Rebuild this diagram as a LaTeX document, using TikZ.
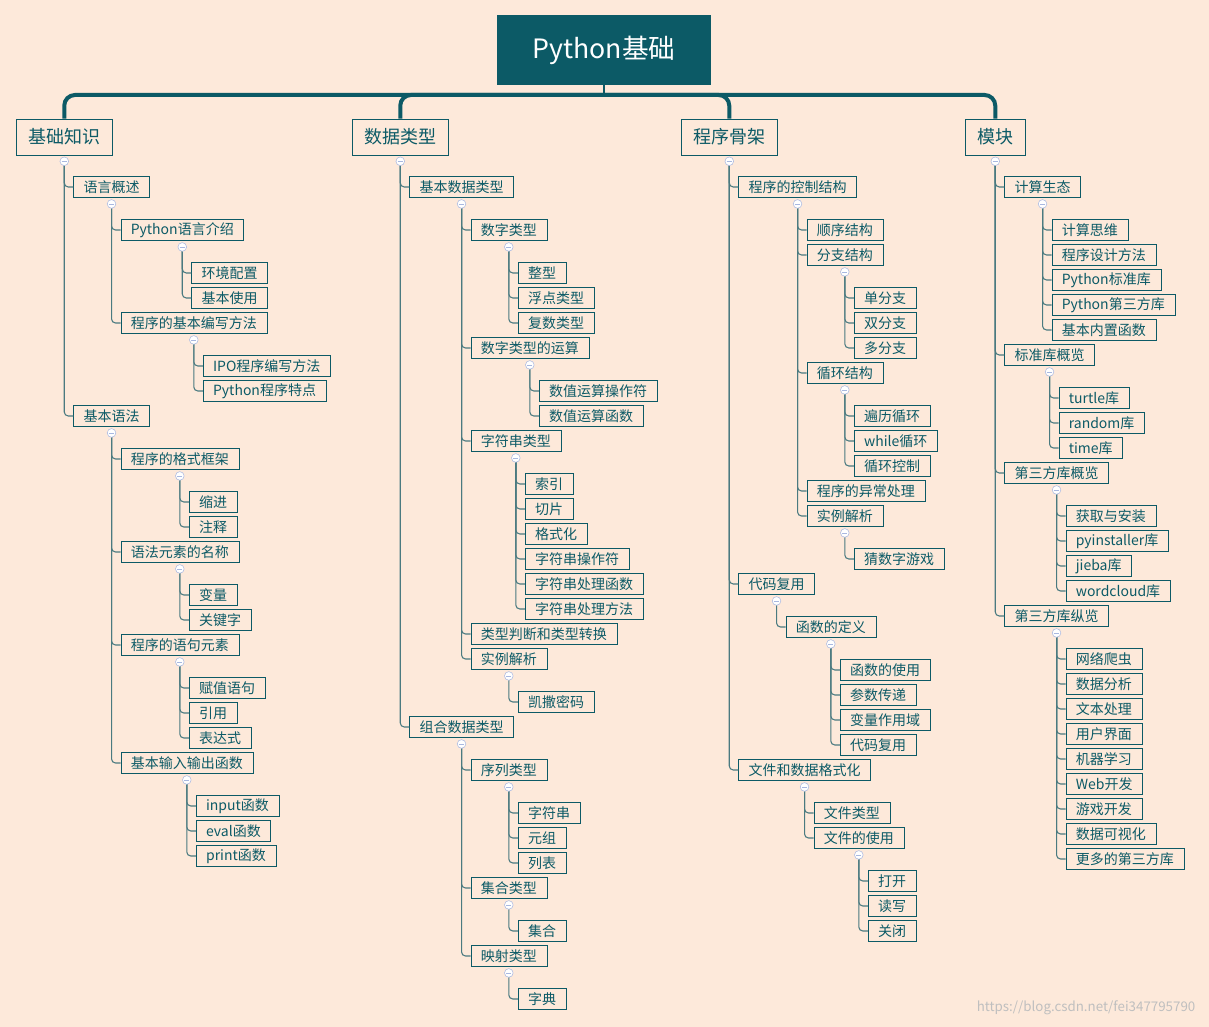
\documentclass[tikz,border=0pt]{standalone}
\usepackage{fontspec}
\setmainfont{Noto Sans CJK SC}
\usetikzlibrary{calc}
\definecolor{paper}{HTML}{FDE9DA}
\definecolor{teal}{HTML}{0C5A66}
\definecolor{wire}{HTML}{4A7A80}
\definecolor{foldc}{HTML}{A9B8E0}
% child node below a parent, plus its connector
\newcommand\kid[4]{%
  \path (#1.south) ++(9,0) coordinate (tmp);
  \node[topic,anchor=west] (#2) at (tmp |- 0,#3) {#4};
  \draw[line] ($(#1.south)+(0,10)$) |- (#2.west);}
\newcommand\fold[1]{\node[dot] at ($(#1.south)+(0,6)$) {};}
\begin{document}
\begin{tikzpicture}[x=0.75pt,y=-0.75pt]
    \tikzset{
        topic/.style={draw=teal,fill=paper,text=teal,font=\fontsize{10.5pt}{12pt}\selectfont,
          inner xsep=7.5pt,inner ysep=0pt,minimum height=16pt},
        main/.style={draw=teal,fill=paper,text=teal,font=\fontsize{13.5pt}{16pt}\selectfont,
          inner xsep=9pt,inner ysep=0pt,minimum height=27pt},
        line/.style={draw=wire,line width=0.8pt,rounded corners=3pt},
        bar/.style={draw=teal,line width=3pt,rounded corners=8pt},
        dot/.style={circle,draw=foldc,fill=white,minimum size=6.5pt,inner sep=0pt,
          path picture={\draw[foldc,line width=0.6pt] ([xshift=1.3pt]path picture bounding box.west)
            -- ([xshift=-1.3pt]path picture bounding box.east);}},
    };
    \fill[paper] (0,0) rectangle (1209,1027);
    \useasboundingbox (0,0) rectangle (1209,1027);
    \node [fill=teal,text=white,minimum width=160.5pt,minimum height=52pt,
      font=\fontsize{20pt}{24pt}\selectfont] (root) at (604,50) {Python基础};
    \coordinate (hub) at (604,95);
    \node [main,anchor=west] (a) at (16,137) {基础知识};
    \node [main,anchor=west] (b) at (352,137) {数据类型};
    \node [main,anchor=west] (c) at (681,137) {程序骨架};
    \node [main,anchor=west] (d) at (965,137) {模块};
    \draw[teal,line width=1pt] (root.south) -- (hub);
    \draw[bar] (a.north) |- (hub);
    \draw[bar] (b.north) |- (hub);
    \draw[bar] (c.north) |- (hub);
    \draw[bar] (d.north) |- (hub);

    % 基础知识
    \kid{a}{a1}{187}{语言概述}
    \kid{a1}{a11}{230}{Python语言介绍}
    \kid{a11}{a111}{273}{环境配置}
    \kid{a11}{a112}{298}{基本使用}
    \kid{a1}{a12}{323}{程序的基本编写方法}
    \kid{a12}{a121}{366}{IPO程序编写方法}
    \kid{a12}{a122}{391}{Python程序特点}
    \kid{a}{a2}{416}{基本语法}
    \kid{a2}{a21}{459}{程序的格式框架}
    \kid{a21}{a211}{502}{缩进}
    \kid{a21}{a212}{527}{注释}
    \kid{a2}{a22}{552}{语法元素的名称}
    \kid{a22}{a221}{595}{变量}
    \kid{a22}{a222}{620}{关键字}
    \kid{a2}{a23}{645}{程序的语句元素}
    \kid{a23}{a231}{688}{赋值语句}
    \kid{a23}{a232}{713}{引用}
    \kid{a23}{a233}{738}{表达式}
    \kid{a2}{a24}{763}{基本输入输出函数}
    \kid{a24}{a241}{806}{input函数}
    \kid{a24}{a242}{831}{eval函数}
    \kid{a24}{a243}{856}{print函数}

    % 数据类型
    \kid{b}{b1}{187}{基本数据类型}
    \kid{b1}{b11}{230}{数字类型}
    \kid{b11}{b111}{273}{整型}
    \kid{b11}{b112}{298}{浮点类型}
    \kid{b11}{b113}{323}{复数类型}
    \kid{b1}{b12}{348}{数字类型的运算}
    \kid{b12}{b121}{391}{数值运算操作符}
    \kid{b12}{b122}{416}{数值运算函数}
    \kid{b1}{b13}{441}{字符串类型}
    \kid{b13}{b131}{484}{索引}
    \kid{b13}{b132}{509}{切片}
    \kid{b13}{b133}{534}{格式化}
    \kid{b13}{b134}{559}{字符串操作符}
    \kid{b13}{b135}{584}{字符串处理函数}
    \kid{b13}{b136}{609}{字符串处理方法}
    \kid{b1}{b14}{634}{类型判断和类型转换}
    \kid{b1}{b15}{659}{实例解析}
    \kid{b15}{b151}{702}{凯撒密码}
    \kid{b}{b2}{727}{组合数据类型}
    \kid{b2}{b21}{770}{序列类型}
    \kid{b21}{b211}{813}{字符串}
    \kid{b21}{b212}{838}{元组}
    \kid{b21}{b213}{863}{列表}
    \kid{b2}{b22}{888}{集合类型}
    \kid{b22}{b221}{931}{集合}
    \kid{b2}{b23}{956}{映射类型}
    \kid{b23}{b231}{999}{字典}

    % 程序骨架
    \kid{c}{c1}{187}{程序的控制结构}
    \kid{c1}{c11}{230}{顺序结构}
    \kid{c1}{c12}{255}{分支结构}
    \kid{c12}{c121}{298}{单分支}
    \kid{c12}{c122}{323}{双分支}
    \kid{c12}{c123}{348}{多分支}
    \kid{c1}{c13}{373}{循环结构}
    \kid{c13}{c131}{416}{遍历循环}
    \kid{c13}{c132}{441}{while循环}
    \kid{c13}{c133}{466}{循环控制}
    \kid{c1}{c14}{491}{程序的异常处理}
    \kid{c1}{c15}{516}{实例解析}
    \kid{c15}{c151}{559}{猜数字游戏}
    \kid{c}{c2}{584}{代码复用}
    \kid{c2}{c21}{627}{函数的定义}
    \kid{c21}{c211}{670}{函数的使用}
    \kid{c21}{c212}{695}{参数传递}
    \kid{c21}{c213}{720}{变量作用域}
    \kid{c21}{c214}{745}{代码复用}
    \kid{c}{c3}{770}{文件和数据格式化}
    \kid{c3}{c31}{813}{文件类型}
    \kid{c3}{c32}{838}{文件的使用}
    \kid{c32}{c321}{881}{打开}
    \kid{c32}{c322}{906}{读写}
    \kid{c32}{c323}{931}{关闭}

    % 模块
    \kid{d}{d1}{187}{计算生态}
    \kid{d1}{d11}{230}{计算思维}
    \kid{d1}{d12}{255}{程序设计方法}
    \kid{d1}{d13}{280}{Python标准库}
    \kid{d1}{d14}{305}{Python第三方库}
    \kid{d1}{d15}{330}{基本内置函数}
    \kid{d}{d2}{355}{标准库概览}
    \kid{d2}{d21}{398}{turtle库}
    \kid{d2}{d22}{423}{random库}
    \kid{d2}{d23}{448}{time库}
    \kid{d}{d3}{473}{第三方库概览}
    \kid{d3}{d31}{516}{获取与安装}
    \kid{d3}{d32}{541}{pyinstaller库}
    \kid{d3}{d33}{566}{jieba库}
    \kid{d3}{d34}{591}{wordcloud库}
    \kid{d}{d4}{616}{第三方库纵览}
    \kid{d4}{d41}{659}{网络爬虫}
    \kid{d4}{d42}{684}{数据分析}
    \kid{d4}{d43}{709}{文本处理}
    \kid{d4}{d44}{734}{用户界面}
    \kid{d4}{d45}{759}{机器学习}
    \kid{d4}{d46}{784}{Web开发}
    \kid{d4}{d47}{809}{游戏开发}
    \kid{d4}{d48}{834}{数据可视化}
    \kid{d4}{d49}{859}{更多的第三方库}

    % fold markers
    \foreach \p in {a,a1,a11,a12,a2,a21,a22,a23,a24,
                    b,b1,b11,b12,b13,b15,b2,b21,b22,b23,
                    c,c1,c12,c13,c15,c2,c21,c3,c32,
                    d,d1,d2,d3,d4} {\fold{\p}}

    \node [anchor=east,text=black!25,font=\fontsize{10pt}{12pt}\selectfont] (mark) at (1200,1008)
      {https://blog.csdn.net/fei347795790};
\end{tikzpicture}
\end{document}
